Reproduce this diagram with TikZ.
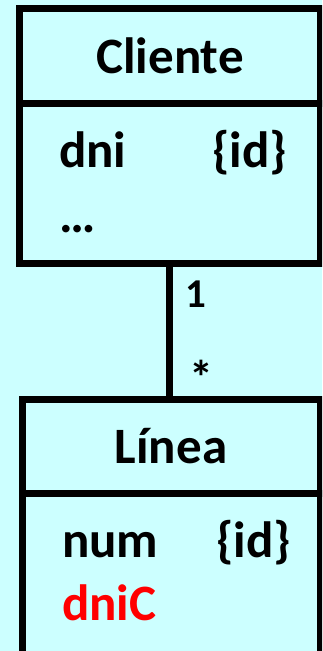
\documentclass[tikz,border=0pt]{standalone}
\usepackage{fontspec}
\setmainfont{Carlito}
\usepackage{xcolor}
\usetikzlibrary{positioning}
\definecolor{fondo}{HTML}{CCFFFF}
\definecolor{rojo}{HTML}{FF0000}

\begin{document}
\begin{tikzpicture}[x=1pt,y=-1pt,caja/.style={draw,rectangle,line width=7pt,inner
sep=0pt,outer sep=0pt,minimum width=301pt},txt/.style={font=\fontsize{51}{60}\selectfont\bfseries,
inner sep=0pt,anchor=base west},nom/.style={font=\fontsize{51}{60}\selectfont\bfseries,
inner sep=0pt,anchor=base},mult/.style={font=\fontsize{41}{48}\selectfont\bfseries,
inner sep=0pt,anchor=base west}]
\fill[fondo] (0,0) rectangle (322,651);
\useasboundingbox (0,0) rectangle (322,651);
\clip (0,0) rectangle (322,651);
\node[caja,minimum height=95pt] (clienteCab) at (169.5,55.5) {};
\node[caja,minimum height=160pt,below=0pt of clienteCab] (clienteAtr) {};
\node[caja,minimum width=298pt,minimum height=94pt] (lineaCab) at (171,446) {};
\node[caja,minimum width=298pt,minimum height=163pt,below=0pt of lineaCab] (lineaAtr) {};
\node[nom] (cliente) at (170,73) {Cliente};
\node[txt] (dni) at (59,167) {dni};
\node[txt] (dniId) at (212,167) {\{id\}};
\node[txt] (resto) at (59,232) {…};
\node[nom] (linea) at (171,463) {Línea};
\node[txt] (num) at (62,557) {num};
\node[txt] (numId) at (216,557) {\{id\}};
\node[txt,text=rojo] (dniC) at (62,620) {dniC};
\draw[line width=7pt] (clienteAtr.south) -- (clienteAtr.south |- lineaCab.north);
\node[mult] (uno) at (185,307) {1};
\node[mult,font=\fontsize{48}{48}\selectfont\bfseries] (muchos) at (189,394) {*};
\end{tikzpicture}
\end{document}
